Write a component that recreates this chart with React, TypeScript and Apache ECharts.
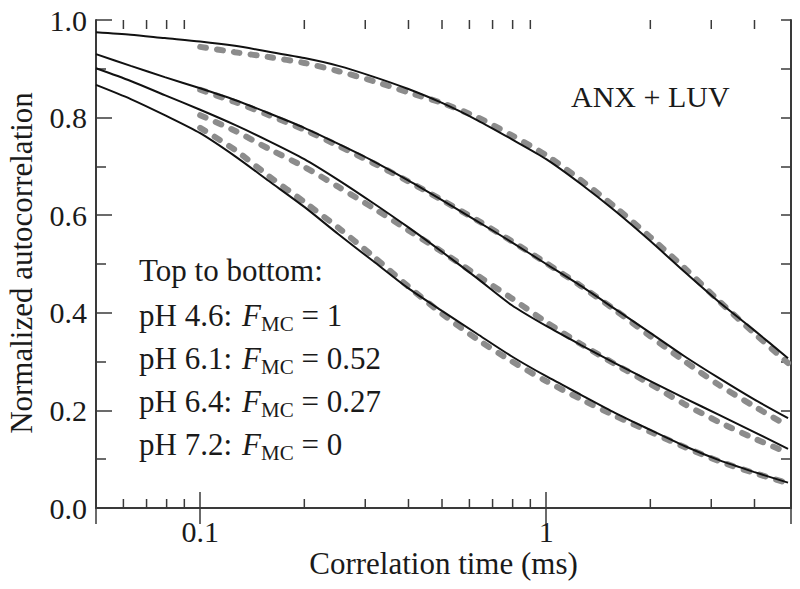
import React, { useEffect, useRef } from "react";
import * as echarts from "echarts";

// ---- data ----
// correlation times (ms), evenly spaced on the log axis
const fitTimes = [0.05, 0.063, 0.079, 0.1, 0.126, 0.158, 0.2, 0.251, 0.316, 0.398, 0.5, 0.631, 0.794, 1, 1.26, 1.58, 2, 2.51, 3.16, 3.98, 5];
// fitted curves (solid black)
const fitPH46 = [0.975, 0.97, 0.963, 0.956, 0.947, 0.935, 0.922, 0.906, 0.884, 0.859, 0.83, 0.795, 0.756, 0.715, 0.664, 0.609, 0.547, 0.484, 0.422, 0.365, 0.307];
const fitPH61 = [0.93, 0.906, 0.883, 0.86, 0.836, 0.809, 0.779, 0.746, 0.711, 0.672, 0.631, 0.588, 0.545, 0.5, 0.455, 0.408, 0.359, 0.311, 0.266, 0.223, 0.184];
const fitPH64 = [0.901, 0.875, 0.846, 0.816, 0.785, 0.752, 0.715, 0.672, 0.625, 0.576, 0.525, 0.471, 0.416, 0.373, 0.334, 0.297, 0.26, 0.225, 0.191, 0.156, 0.121];
const fitPH72 = [0.867, 0.838, 0.805, 0.768, 0.721, 0.67, 0.617, 0.561, 0.506, 0.451, 0.404, 0.357, 0.311, 0.27, 0.232, 0.195, 0.16, 0.127, 0.098, 0.074, 0.052];

// measured data (grey dashes)
const dataTimes = [0.1, 0.126, 0.158, 0.2, 0.251, 0.316, 0.398, 0.5, 0.631, 0.794, 1, 1.26, 1.58, 2, 2.51, 3.16, 3.98, 5];
const dataPH46 = [0.945, 0.934, 0.924, 0.912, 0.895, 0.875, 0.852, 0.83, 0.801, 0.764, 0.723, 0.672, 0.617, 0.555, 0.492, 0.424, 0.359, 0.297];
const dataPH61 = [0.857, 0.832, 0.805, 0.775, 0.742, 0.707, 0.67, 0.631, 0.59, 0.547, 0.502, 0.455, 0.406, 0.352, 0.301, 0.252, 0.209, 0.168];
const dataPH64 = [0.805, 0.773, 0.736, 0.699, 0.658, 0.615, 0.57, 0.525, 0.477, 0.43, 0.381, 0.336, 0.295, 0.254, 0.213, 0.176, 0.143, 0.113];
const dataPH72 = [0.779, 0.734, 0.68, 0.627, 0.574, 0.516, 0.455, 0.398, 0.346, 0.301, 0.26, 0.223, 0.189, 0.156, 0.125, 0.096, 0.072, 0.051];

const xMinorTicks = [0.06, 0.07, 0.08, 0.09, 0.2, 0.3, 0.4, 0.5, 0.6, 0.7, 0.8, 0.9, 2, 3, 4];

const legendLines = [
  { ph: "pH 4.6:", value: "= 1" },
  { ph: "pH 6.1:", value: "= 0.52" },
  { ph: "pH 6.4:", value: "= 0.27" },
  { ph: "pH 7.2:", value: "= 0" },
];

const FONT = '"Liberation Serif", "Times New Roman", serif';
const INK = "#1a1a1a";
const AXIS = "#3a3a3a";
const GRAY = "#8c8c8c";

const pairs = (xs: number[], ys: number[]) => xs.map((x, i) => [x, ys[i]]);

export default function App() {
  const ref = useRef<HTMLDivElement>(null);

  useEffect(() => {
    if (!ref.current) return;
    const chart = echarts.init(ref.current, undefined, { renderer: "svg" });

    const dashSeries = (d: number[]) => ({
      type: "line",
      data: pairs(dataTimes, d),
      showSymbol: false,
      smooth: 0.25,
      silent: true,
      lineStyle: { color: GRAY, width: 6, type: [6, 11], cap: "round" },
      z: 2,
    });
    const fitSeries = (d: number[]) => ({
      type: "line",
      data: pairs(fitTimes, d),
      showSymbol: false,
      smooth: 0.25,
      silent: true,
      lineStyle: { color: "#111", width: 2 },
      z: 3,
    });

    const isDecade = (v: number) => {
      const l = Math.log10(v);
      return Math.abs(l - Math.round(l)) < 1e-6;
    };

    const legendGraphics: any[] = [];
    const baselines = [326, 369, 412, 455];
    legendLines.forEach((ln, i) => {
      const b = baselines[i];
      legendGraphics.push(
        { type: "text", x: 139, y: b - 10.5, style: { text: ln.ph, font: `31px ${FONT}`, fill: INK, align: "left", verticalAlign: "middle" } },
        { type: "text", x: 242, y: b - 10.5, style: { text: "F", font: `italic 31px ${FONT}`, fill: INK, align: "left", verticalAlign: "middle" } },
        { type: "text", x: 261, y: b - 2.5, style: { text: "MC", font: `21px ${FONT}`, fill: INK, align: "left", verticalAlign: "middle" } },
        { type: "text", x: 301.5, y: b - 10.5, style: { text: ln.value, font: `31px ${FONT}`, fill: INK, align: "left", verticalAlign: "middle" } }
      );
    });

    const option: any = {
      animation: false,
      backgroundColor: "#ffffff",
      grid: { left: 96, top: 20, right: 9, bottom: 81, containLabel: false },
      xAxis: [
        {
          type: "log",
          logBase: 10,
          min: 0.05,
          max: 5.1,
          position: "bottom",
          axisLine: { show: true, lineStyle: { color: AXIS, width: 2 } },
          axisTick: { show: true, inside: true, length: 16, lineStyle: { color: AXIS, width: 1.5 } },
          axisLabel: {
            show: true,
            margin: 8,
            fontFamily: FONT,
            fontSize: 30,
            color: INK,
            formatter: (v: number) => (isDecade(v) ? String(Math.round(v * 10) / 10) : ""),
          },
          splitLine: { show: false },
        },
        {
          type: "log",
          logBase: 10,
          min: 0.05,
          max: 5.1,
          position: "top",
          axisLine: { show: true, lineStyle: { color: AXIS, width: 2 } },
          axisTick: { show: true, inside: true, length: 16, lineStyle: { color: AXIS, width: 1.5 } },
          axisLabel: { show: false },
          splitLine: { show: false },
        },
      ],
      yAxis: [
        {
          type: "value",
          min: 0,
          max: 1,
          interval: 0.2,
          position: "left",
          axisLine: { show: true, lineStyle: { color: AXIS, width: 2 } },
          axisTick: { show: true, inside: true, length: 16, lineStyle: { color: AXIS, width: 1.5 } },
          minorTick: { show: true, splitNumber: 2, length: 10, lineStyle: { color: AXIS, width: 1.5 } },
          axisLabel: {
            margin: 9,
            fontFamily: FONT,
            fontSize: 30,
            color: INK,
            formatter: (v: number) => v.toFixed(1),
          },
          splitLine: { show: false },
        },
        {
          type: "value",
          min: 0,
          max: 1,
          interval: 0.1,
          position: "right",
          axisLine: { show: true, lineStyle: { color: AXIS, width: 2 } },
          axisTick: { show: true, inside: true, length: 10, lineStyle: { color: AXIS, width: 1.5 } },
          axisLabel: { show: false },
          splitLine: { show: false },
        },
      ],
      series: [
        dashSeries(dataPH46),
        dashSeries(dataPH61),
        dashSeries(dataPH64),
        dashSeries(dataPH72),
        fitSeries(fitPH46),
        fitSeries(fitPH61),
        fitSeries(fitPH64),
        fitSeries(fitPH72),
        {
          type: "custom",
          silent: true,
          clip: false,
          z: 5,
          data: xMinorTicks.map((v) => [v, 0]),
          renderItem: (params: any, api: any) => {
            const v = api.value(0);
            const pb = api.coord([v, 0]);
            const pt = api.coord([v, 1]);
            const st = { stroke: AXIS, lineWidth: 1.5 };
            return {
              type: "group",
              children: [
                { type: "line", shape: { x1: pb[0], y1: pb[1], x2: pb[0], y2: pb[1] - 9 }, style: st },
                { type: "line", shape: { x1: pt[0], y1: pt[1], x2: pt[0], y2: pt[1] + 9 }, style: st },
              ],
            };
          },
        },
      ],
      graphic: [
        {
          type: "text",
          x: 21,
          y: 263,
          rotation: Math.PI / 2,
          style: { text: "Normalized autocorrelation", font: `31px ${FONT}`, fill: INK, align: "center", verticalAlign: "middle" },
        },
        {
          type: "text",
          x: 443.5,
          y: 563,
          style: { text: "Correlation time (ms)", font: `31px ${FONT}`, fill: INK, align: "center", verticalAlign: "middle" },
        },
        {
          type: "text",
          x: 571,
          y: 96,
          style: { text: "ANX + LUV", font: `30px ${FONT}`, fill: INK, align: "left", verticalAlign: "middle" },
        },
        {
          type: "text",
          x: 139,
          y: 270,
          style: { text: "Top to bottom:", font: `31px ${FONT}`, fill: INK, align: "left", verticalAlign: "middle" },
        },
        ...legendGraphics,
      ],
    };

    chart.setOption(option);
    return () => chart.dispose();
  }, []);

  return (
    <div
      ref={ref}
      style={{ position: "fixed", left: 0, top: 0, width: 800, height: 589, background: "#fff" }}
    />
  );
}
